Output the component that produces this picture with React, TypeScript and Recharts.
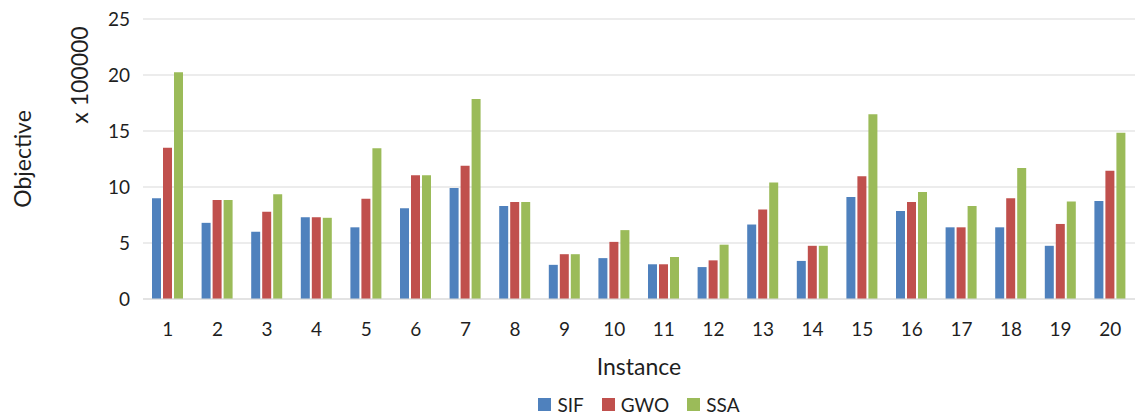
import { BarChart, Bar, XAxis, YAxis, CartesianGrid, Legend } from 'recharts';

const instances = ['1', '2', '3', '4', '5', '6', '7', '8', '9', '10', '11', '12', '13', '14', '15', '16', '17', '18', '19', '20'];
const sif = [9.0, 6.8, 6.0, 7.3, 6.4, 8.1, 9.9, 8.3, 3.05, 3.65, 3.1, 2.85, 6.65, 3.4, 9.1, 7.85, 6.4, 6.4, 4.75, 8.75];
const gwo = [13.5, 8.85, 7.8, 7.3, 8.95, 11.05, 11.9, 8.65, 4.0, 5.1, 3.1, 3.45, 8.0, 4.75, 10.95, 8.65, 6.4, 9.0, 6.7, 11.45];
const ssa = [20.25, 8.85, 9.35, 7.25, 13.45, 11.05, 17.85, 8.65, 4.0, 6.15, 3.75, 4.85, 10.4, 4.75, 16.5, 9.55, 8.3, 11.7, 8.7, 14.85];
const yTicks = [0, 5, 10, 15, 20, 25];

const series = [
  { key: 'SIF', color: '#4F81BD' },
  { key: 'GWO', color: '#C0504D' },
  { key: 'SSA', color: '#9BBB59' },
];

const data = instances.map((instance, i) => ({
  instance,
  SIF: sif[i],
  GWO: gwo[i],
  SSA: ssa[i],
}));

const FONT = 'Lato, "Open Sans", sans-serif';
const TEXT = '#1f1f1f';

// both y titles: the axis name plus the scale factor line next to the ticks
function YTitles({ viewBox }: { viewBox?: { x: number; y: number; width: number; height: number } }) {
  if (!viewBox) return null;
  const cx = viewBox.x + 22;
  const cy = viewBox.y + viewBox.height / 2;
  const sx = viewBox.x + 79;
  const sy = viewBox.y + 56;
  return (
    <g fontFamily={FONT} fontSize={23} fill={TEXT}>
      <text x={cx} y={cy} transform={`rotate(-90 ${cx} ${cy})`} textAnchor="middle" dominantBaseline="central">
        Objective
      </text>
      <text x={sx} y={sy} transform={`rotate(-90 ${sx} ${sy})`} textAnchor="middle" dominantBaseline="central">
        x 100000
      </text>
    </g>
  );
}

function SeriesLegend() {
  return (
    <div style={{ display: 'flex', justifyContent: 'center', fontFamily: FONT, fontSize: 19, color: TEXT }}>
      {series.map((s, i) => (
        <div key={s.key} style={{ display: 'flex', alignItems: 'center', marginLeft: i ? 18 : 0 }}>
          <span style={{ width: 13, height: 13, background: s.color, display: 'inline-block', marginRight: 6 }} />
          <span>{s.key}</span>
        </div>
      ))}
    </div>
  );
}

export default function App() {
  return (
    <div style={{ position: 'absolute', left: 0, top: 0, width: 1135, height: 416, background: '#fff' }}>
      <BarChart
        width={1135}
        height={416}
        data={data}
        margin={{ top: 19, right: 0, left: 0, bottom: 37 }}
        barSize={9}
        barGap={2}
      >
        <CartesianGrid vertical={false} stroke="#D9D9D9" strokeWidth={1.2} />
        <XAxis
          dataKey="instance"
          height={80}
          tickSize={0}
          tickMargin={24}
          axisLine={{ stroke: '#D9D9D9', strokeWidth: 1.2 }}
          tick={{ fill: TEXT, fontSize: 19, fontFamily: FONT }}
          label={{ value: 'Instance', position: 'insideBottom', offset: 4, fill: TEXT, fontSize: 23, fontFamily: FONT }}
        />
        <YAxis
          width={143}
          domain={[0, 25]}
          ticks={yTicks}
          tickSize={0}
          tickMargin={13}
          axisLine={false}
          tick={{ fill: TEXT, fontSize: 19, fontFamily: FONT }}
          label={<YTitles />}
        />
        <Legend
          layout="horizontal"
          verticalAlign="middle"
          align="center"
          wrapperStyle={{ top: 393, left: 143, width: 992 }}
          content={<SeriesLegend />}
        />
        {series.map((s) => (
          <Bar key={s.key} dataKey={s.key} fill={s.color} isAnimationActive={false} />
        ))}
      </BarChart>
    </div>
  );
}
